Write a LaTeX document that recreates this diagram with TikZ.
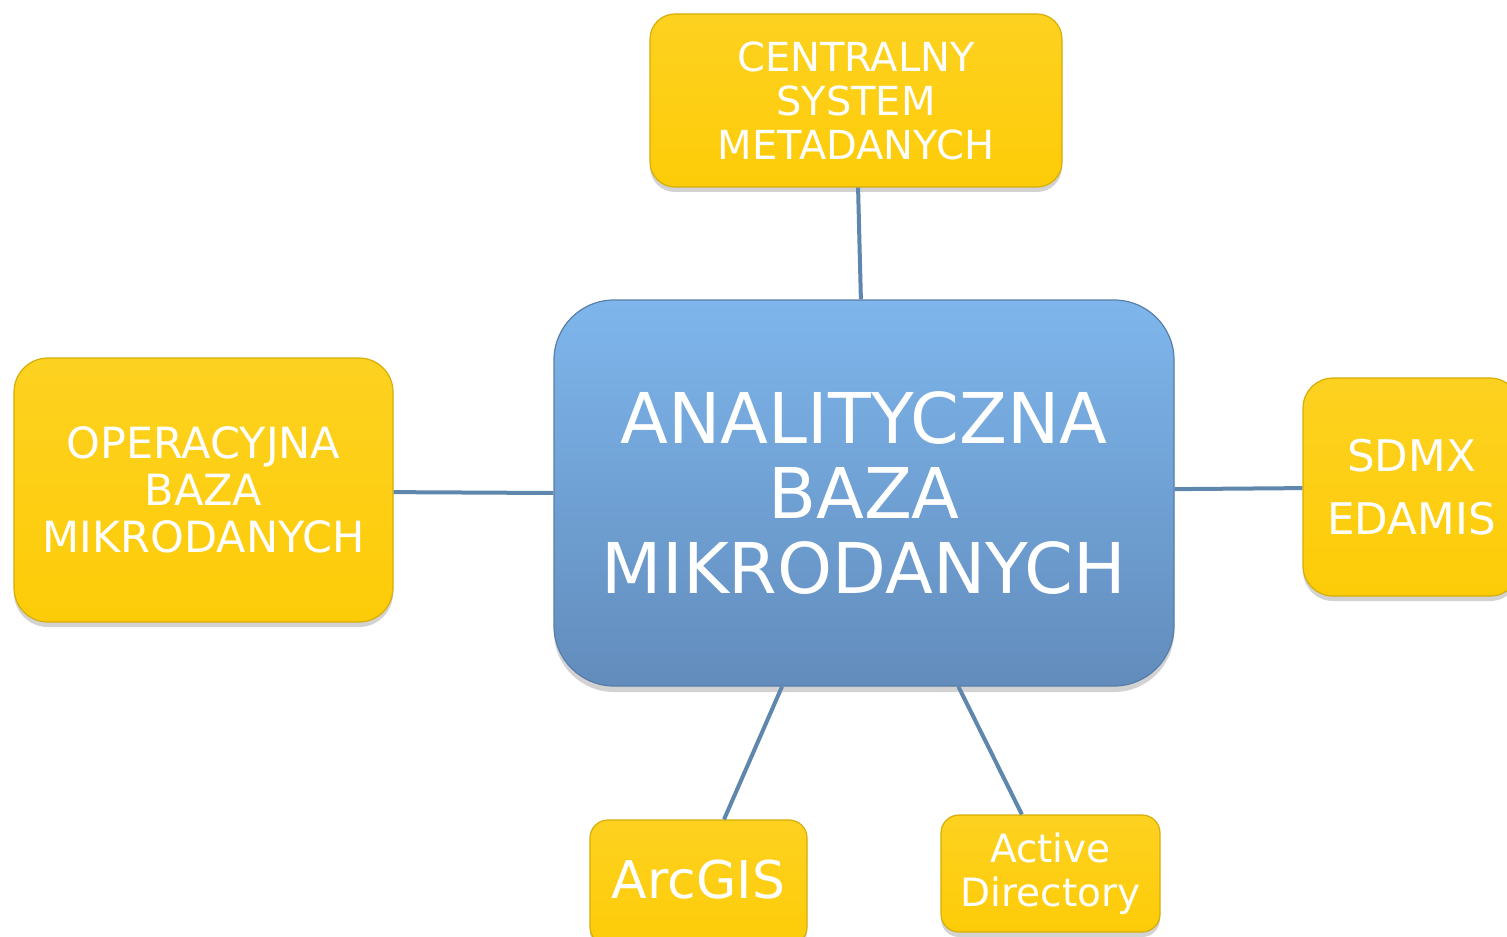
\documentclass[tikz,border=0pt]{standalone}
\usepackage{fontspec}
\setmainfont{DejaVu Sans}
\usetikzlibrary{calc,shadows}
\definecolor{boxyellow}{RGB}{253,204,8}
\definecolor{boxyellowtop}{RGB}{253,209,32}
\definecolor{bluetop}{RGB}{126,182,236}
\definecolor{bluebot}{RGB}{98,140,188}
\definecolor{linkblue}{RGB}{95,134,173}
\tikzset{
  ybox/.style={draw=boxyellow!85!black, line width=0.6pt, top color=boxyellowtop, bottom color=boxyellow,
    text=white, align=center, inner sep=0pt,
    drop shadow={opacity=0.35, shadow xshift=0pt, shadow yshift=-2.5pt}},
  bbox/.style={draw=bluebot!90!black, line width=0.6pt, top color=bluetop, bottom color=bluebot,
    text=white, align=center, inner sep=0pt, rounded corners=30pt,
    drop shadow={opacity=0.35, shadow xshift=0pt, shadow yshift=-3pt}},
  link/.style={draw=linkblue, line width=2pt}
}
\begin{document}
\begin{tikzpicture}[x=0.5pt,y=-0.5pt]
\useasboundingbox (0,0) rectangle (1507,936);
\fill[white] (0,0) rectangle (1507,936);

\node[bbox, minimum width=310pt, minimum height=193pt,
  font={\fontsize{35}{37.5}\selectfont}] (center) at (864,493)
  {ANALITYCZNA\\BAZA\\MIKRODANYCH};

\node[ybox, rounded corners=12.5pt, minimum width=206pt, minimum height=86.5pt,
  font={\fontsize{20}{22}\selectfont}] (top) at (856,100.5)
  {CENTRALNY\\SYSTEM\\METADANYCH};

\node[ybox, rounded corners=17pt, minimum width=189.5pt, minimum height=132pt,
  font={\fontsize{21.5}{23.5}\selectfont}] (left) at (203.5,490)
  {OPERACYJNA\\BAZA\\MIKRODANYCH};

\node[ybox, rounded corners=15pt, minimum width=108.5pt, minimum height=109pt,
  font={\fontsize{21.8}{31.5}\selectfont}] (right) at (1411.5,487)
  {SDMX\\EDAMIS};

\node[ybox, rounded corners=9pt, minimum width=108.5pt, minimum height=62.5pt,
  font={\fontsize{26}{28}\selectfont}] (arc) at (698.5,882.5)
  {\raisebox{3pt}{ArcGIS}};

\node[ybox, rounded corners=9pt, minimum width=109.5pt, minimum height=58.5pt,
  font={\fontsize{19.5}{22}\selectfont}] (ad) at (1050.5,873.5)
  {Active\\Directory};

\draw[link] ($(top.south west)!0.505!(top.south east)$) -- ($(center.north west)!0.495!(center.north east)$);
\draw[link] ($(left.north east)!0.508!(left.south east)$) -- (center.west);
\draw[link] ($(center.north east)!0.49!(center.south east)$) -- ($(right.north west)!0.505!(right.south west)$);
\draw[link] ($(center.south west)!0.368!(center.south east)$) -- ($(arc.north west)!0.617!(arc.north east)$);
\draw[link] ($(center.south west)!0.652!(center.south east)$) -- ($(ad.north west)!0.37!(ad.north east)$);
\end{tikzpicture}
\end{document}
